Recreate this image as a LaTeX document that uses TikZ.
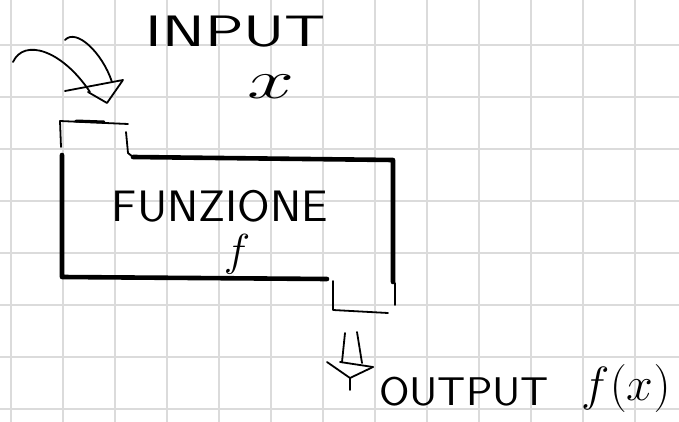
\documentclass[tikz,border=0pt]{standalone}
\usepackage{graphicx}
\usetikzlibrary{calc}

\tikzset{
  quadretto/.style={draw=gray!28, line width=1.6pt},
  bordo/.style={line width=4.6pt, line cap=round, line join=round},
  tratto/.style={line width=1.8pt, line cap=round, line join=round},
  scritta/.style={inner sep=0pt, font=\sffamily},
  formula/.style={inner sep=0pt, font=\fontsize{24.88}{30}\selectfont}
}
\newcommand{\largo}[3]{\scalebox{#1}[#2]{#3}}

\begin{document}
\begin{tikzpicture}[x=1pt, y=-1pt]
 \useasboundingbox (0,0) rectangle (679,422);
 % foglio a quadretti
 \foreach \gx in {11,63,...,635}
   \draw[quadretto] (\gx,0) -- (\gx,422);
 \foreach \gy in {45,97,...,409}
   \draw[quadretto] (0,\gy) -- (679,\gy);

 % la scatola della funzione
 \draw[bordo] (62,155) -- (62,277) -- (327,279);
 \draw[bordo] (133,157) -- (393,160) -- (393,282);
 \draw[tratto] (61,147) -- (60,121) -- (128,124);
 \draw[bordo, line width=3pt] (76,121) -- (104,122);
 \draw[tratto] (126,132) -- (128,153) -- (133,157);
 \draw[tratto] (333,281) -- (333,310) -- (388,313);
 \draw[tratto] (395,283) -- (395,305);

 % freccia di ingresso
 \coordinate (in1) at (13,62);
 \coordinate (in2) at (65,40);
 \coordinate (punta) at (107,103);
 \draw[tratto] (in1) .. controls (24,38) and (62,50) .. (90,92);
 \draw[tratto] (in2) .. controls (76,28) and (102,52) .. (112,82);
 \draw[tratto] (65,91) -- (123,80) -- (punta) -- (88,92);

 % freccia di uscita
 \coordinate (out1) at (345,333);
 \coordinate (out2) at (357,332);
 \coordinate (giu) at (350,378);
 \draw[tratto] (out1) -- (342,362);
 \draw[tratto] (out2) -- (362,363);
 \draw[tratto] (327,362) -- (giu) -- (373,367);
 \draw[tratto] (340,362) -- (373,367);
 \draw[tratto] (giu) -- (350,390);

 % scritte
 \node[scritta, font=\sffamily\fontsize{44}{44}\selectfont] (input) at (236,32) {\largo{1.46}{1}{INPUT}};
 \node[formula] (xin) at (271,87) {\largo{3.4}{2.2}{$x$}};
 \node[scritta, font=\sffamily\fontsize{44}{44}\selectfont] (funzione) at (220,206) {\largo{1.07}{1}{FUNZIONE}};
 \node[formula] (fnome) at (237,254) {\largo{1.8}{1.8}{$f$}};
 \node[scritta, font=\sffamily\fontsize{40}{40}\selectfont] (output) at (464,392) {\largo{1.1}{1}{OUTPUT}};
 \node[formula] (fx) at (626,388) {\largo{1.93}{1.93}{$f(x)$}};
\end{tikzpicture}
\end{document}
